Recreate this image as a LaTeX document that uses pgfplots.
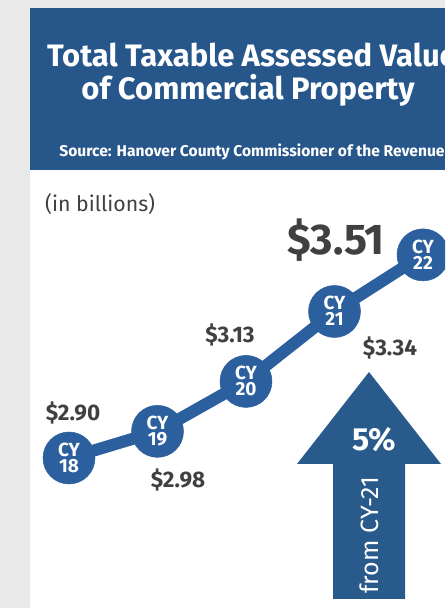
\documentclass[border=0pt]{standalone}
\usepackage{pgfplots}
\pgfplotsset{compat=1.18}
\usepackage{fontspec}
\setmainfont{Fira Sans}
\definecolor{bggrey}{HTML}{E9E9E9}
\definecolor{titleblue}{HTML}{27568A}
\definecolor{circblue}{HTML}{2B5F9D}
\definecolor{arrowblue}{HTML}{285A8C}
\definecolor{labgrey}{HTML}{404040}
\pgfplotsset{myax/.style={at={(69pt,150pt)}, anchor=south west, scale only axis,
  width=354pt, height=203.13pt, xmin=0, xmax=4, ymin=2.90, ymax=3.51,
  hide axis, clip=false}}
\tikzset{cy/.style={text=white, inner sep=0, anchor=base,
  font=\fontsize{19}{22}\selectfont\bfseries}}
\newcommand\cylab[3]{%
  \node[cy] at (#1,#2+1.5) {CY};
  \node[cy] at (#1,#2-14.5) {#3};}
\begin{document}
\begin{tikzpicture}[x=1pt,y=1pt]
\useasboundingbox (0,0) rectangle (445,608);
\clip (0,0) rectangle (445,608);
\fill[bggrey] (0,0) rectangle (445,608);
\fill[white] (30,0) rectangle (445,438);
\fill[titleblue] (30,438) rectangle (445,600);
\node[anchor=base, text=white, font=\fontsize{31}{36}\selectfont\bfseries, inner sep=0] at (252,541) {Total Taxable Assessed Value};
\node[anchor=base, text=white, font=\fontsize{31}{36}\selectfont\bfseries, inner sep=0] at (248,508) {of Commercial Property};
\node[anchor=base, text=white, font=\fontsize{15.6}{18}\selectfont\bfseries, inner sep=0] at (252,451) {Source: Hanover County Commissioner of the Revenue};
\node[anchor=base west, text=labgrey, font=\fontsize{21.3}{25}\selectfont, inner sep=0] at (45,396) {(in billions)};
% arrow
\fill[arrowblue] (333,9) -- (333,144) -- (297,144) -- (369,236) -- (441,144) -- (405,144) -- (405,9) -- cycle;
\node[text=white, font=\fontsize{32}{38}\selectfont\bfseries] at (374,168) {5\%};
\node[text=white, rotate=90, font=\fontsize{25}{29}\selectfont] at (369,73) {from CY-21};
\begin{axis}[myax]
\addplot[circblue, line width=12pt, mark=*, mark size=26pt,
  mark options={line width=0.5pt, draw=circblue, fill=circblue}] coordinates {
  (0,2.90) (1,2.98) (2,3.13) (3,3.34) (4,3.51)};
\end{axis}
\cylab{69}{150}{18}
\cylab{157.5}{176.6}{19}
\cylab{246}{226.6}{20}
\cylab{334.5}{296.5}{21}
\cylab{423}{353.1}{22}
\node[text=labgrey, font=\fontsize{22.5}{26}\selectfont\bfseries] at (73,195) {\$2.90};
\node[text=labgrey, font=\fontsize{22.5}{26}\selectfont\bfseries] at (178,128) {\$2.98};
\node[text=labgrey, font=\fontsize{22.5}{26}\selectfont\bfseries] at (230,273) {\$3.13};
\node[text=labgrey, font=\fontsize{22.5}{26}\selectfont\bfseries] at (390,260) {\$3.34};
\node[text=labgrey, font=\fontsize{43}{50}\selectfont\bfseries] at (336,368) {\$3.51};
\end{tikzpicture}
\end{document}
